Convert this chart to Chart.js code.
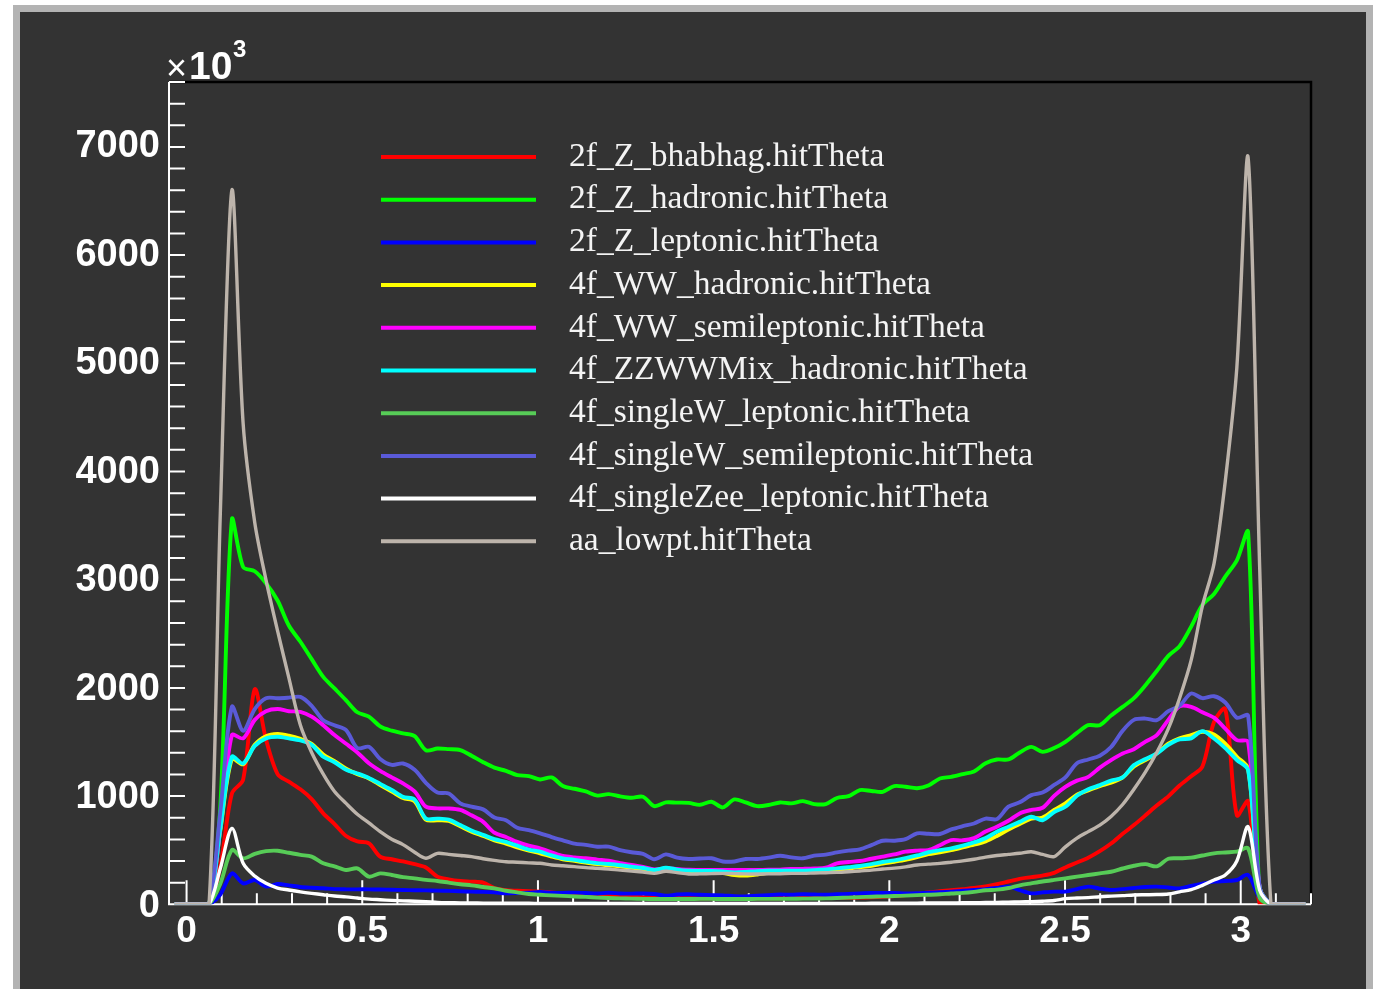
<!DOCTYPE html>
<html>
<head>
<meta charset="utf-8">
<script src="https://cdn.jsdelivr.net/npm/chart.js@4.4.1/dist/chart.umd.min.js"></script>
<style>
    html, body { margin: 0; padding: 0; background: #ffffff; overflow: hidden; }
    #frame {
        position: absolute; left: 13px; top: 5px;
        width: 1346px; height: 1000px;
        border: 7px solid #b3b3b3; border-bottom: none;
        background: #333333;
    }
    #thetaChart { display: block; background: #333333; }
</style>
</head>
<body>
<div id="frame"><canvas id="thetaChart" width="1346" height="977"></canvas></div>
<script>
// === DATA ===
// bin centres of the hitTheta histograms (rad)
const thetaCenters = [
    -0.034, -0.001, 0.031, 0.064, 0.096, 0.129, 0.161, 0.194, 0.226, 0.259,
    0.291, 0.324, 0.356, 0.389, 0.421, 0.454, 0.486, 0.519, 0.551, 0.584,
    0.616, 0.649, 0.681, 0.714, 0.746, 0.779, 0.811, 0.844, 0.876, 0.909,
    0.941, 0.974, 1.006, 1.039, 1.071, 1.104, 1.136, 1.169, 1.201, 1.234,
    1.266, 1.299, 1.331, 1.364, 1.396, 1.429, 1.461, 1.494, 1.526, 1.559,
    1.591, 1.624, 1.656, 1.689, 1.721, 1.754, 1.786, 1.819, 1.851, 1.884,
    1.916, 1.949, 1.981, 2.014, 2.046, 2.079, 2.111, 2.144, 2.176, 2.209,
    2.241, 2.274, 2.306, 2.339, 2.371, 2.404, 2.436, 2.469, 2.501, 2.534,
    2.566, 2.599, 2.631, 2.664, 2.696, 2.729, 2.761, 2.794, 2.826, 2.859,
    2.891, 2.924, 2.956, 2.989, 3.021, 3.054, 3.086, 3.119, 3.151, 3.184,
];

// y axis labels (units of 10^3)
const yLabels = [0, 1000, 2000, 3000, 4000, 5000, 6000, 7000];

// entries, in units of 10^3
const bhabhag = [
    0, 0, 0, 0, 350, 1022, 1150, 1982, 1520, 1200,
    1130, 1060, 970, 838, 740, 630, 580, 562, 439, 415,
    395, 370, 340, 255, 230, 215, 209, 200, 150, 130,
    125, 120, 117, 110, 100, 95, 90, 85, 80, 75,
    70, 66, 62, 60, 58, 56, 55, 55, 55, 55,
    55, 55, 55, 56, 57, 58, 58, 59, 60, 60,
    62, 65, 70, 75, 85, 95, 110, 120, 130, 140,
    150, 165, 185, 210, 235, 250, 265, 290, 340, 385,
    430, 490, 560, 650, 730, 820, 910, 995, 1095, 1180,
    1270, 1680, 1800, 820, 950, 0, 0, 0, 0, 0,
];
const zHadronic = [
    0, 0, 0, 0, 900, 3545, 3110, 3070, 2960, 2800,
    2570, 2420, 2260, 2096, 1990, 1880, 1770, 1730, 1640, 1600,
    1575, 1550, 1420, 1436, 1430, 1421, 1370, 1310, 1260, 1230,
    1191, 1182, 1151, 1169, 1090, 1065, 1040, 1002, 1016, 995,
    982, 991, 905, 939, 937, 935, 917, 945, 893, 967,
    939, 905, 915, 939, 930, 951, 924, 924, 980, 997,
    1053, 1045, 1037, 1090, 1083, 1070, 1095, 1160, 1175, 1200,
    1225, 1300, 1335, 1335, 1400, 1451, 1405, 1440, 1497, 1580,
    1651, 1651, 1740, 1820, 1900, 2020, 2150, 2290, 2380, 2560,
    2760, 2860, 3020, 3170, 3431, 60, 0, 0, 0, 0,
];
const zLeptonic = [
    0, 0, 0, 0, 90, 285, 193, 224, 163, 187,
    175, 160, 153, 148, 140, 138, 138, 138, 136, 134,
    132, 130, 128, 126, 124, 120, 117, 115, 110, 101,
    104, 106, 114, 107, 105, 108, 104, 100, 106, 100,
    98, 100, 95, 79, 90, 92, 88, 85, 82, 75,
    73, 80, 85, 90, 88, 92, 90, 88, 92, 96,
    100, 104, 104, 104, 100, 102, 108, 112, 117, 125,
    132, 140, 150, 163, 130, 101, 110, 117, 117, 140,
    163, 145, 132, 140, 150, 160, 163, 155, 147, 170,
    190, 209, 215, 224, 270, 60, 0, 0, 0, 0,
];
const wwHadronic = [
    0, 0, 0, 0, 680, 1340, 1290, 1470, 1550, 1570,
    1555, 1525, 1480, 1380, 1320, 1250, 1200, 1160, 1100, 1040,
    980, 950, 780, 775, 770, 720, 670, 630, 590, 560,
    525, 495, 470, 440, 415, 400, 385, 370, 360, 350,
    338, 325, 305, 325, 310, 300, 296, 292, 288, 270,
    265, 275, 290, 300, 300, 302, 306, 312, 320, 330,
    342, 355, 375, 392, 410, 435, 462, 480, 500, 525,
    550, 580, 630, 690, 740, 790, 800, 870, 930, 1010,
    1050, 1090, 1120, 1170, 1270, 1330, 1390, 1480, 1530, 1560,
    1590, 1565, 1480, 1360, 1250, 150, 0, 0, 0, 0,
];
const wwSemileptonic = [
    0, 0, 0, 0, 700, 1560, 1530, 1700, 1780, 1800,
    1780, 1774, 1730, 1651, 1560, 1480, 1400, 1300, 1230, 1170,
    1114, 1040, 900, 884, 884, 870, 820, 760, 660, 620,
    575, 540, 516, 480, 445, 432, 424, 412, 402, 380,
    362, 345, 322, 331, 325, 318, 316, 316, 316, 316,
    316, 316, 318, 320, 325, 327, 330, 337, 377, 390,
    399, 420, 439, 460, 485, 495, 500, 545, 592, 590,
    610, 670, 715, 770, 838, 870, 890, 1000, 1083, 1140,
    1175, 1260, 1329, 1390, 1430, 1500, 1559, 1700, 1826, 1820,
    1770, 1720, 1620, 1513, 1498, 150, 0, 0, 0, 0,
];
const zzwwMixHadronic = [
    0, 0, 0, 0, 700, 1360, 1298, 1460, 1530, 1545,
    1530, 1510, 1470, 1360, 1310, 1240, 1206, 1165, 1110, 1053,
    990, 965, 790, 790, 780, 731, 680, 640, 600, 575,
    540, 505, 485, 450, 424, 410, 393, 380, 371, 360,
    347, 335, 316, 337, 320, 310, 308, 307, 302, 294,
    298, 306, 310, 310, 310, 310, 315, 322, 331, 342,
    353, 370, 390, 405, 425, 450, 480, 500, 515, 540,
    570, 610, 669, 715, 760, 807, 775, 850, 899, 1000,
    1060, 1099, 1140, 1170, 1283, 1340, 1390, 1470, 1520, 1530,
    1596, 1528, 1440, 1330, 1237, 150, 0, 0, 0, 0,
];
const singleWLeptonic = [
    0, 0, 0, 0, 190, 500, 424, 465, 490, 494,
    475, 455, 440, 378, 350, 316, 331, 255, 285, 270,
    250, 239, 225, 215, 200, 185, 175, 160, 147, 125,
    110, 95, 88, 82, 78, 72, 68, 62, 58, 55,
    52, 50, 49, 49, 49, 49, 50, 50, 49, 49,
    49, 50, 50, 50, 51, 52, 53, 55, 58, 62,
    66, 70, 73, 76, 80, 85, 88, 92, 100, 105,
    115, 130, 135, 150, 175, 193, 210, 225, 239, 255,
    270, 285, 300, 330, 355, 370, 350, 420, 424, 430,
    450, 470, 478, 485, 516, 60, 0, 0, 0, 0,
];
const singleWSemileptonic = [
    0, 0, 0, 0, 850, 1820, 1600, 1800, 1900, 1900,
    1905, 1912, 1830, 1697, 1650, 1605, 1440, 1452, 1340, 1285,
    1298, 1240, 1120, 1030, 1022, 930, 900, 875, 800, 775,
    705, 684, 654, 620, 590, 560, 548, 531, 531, 500,
    480, 465, 415, 460, 430, 418, 422, 424, 395, 395,
    418, 418, 430, 448, 432, 424, 448, 458, 478, 495,
    507, 545, 586, 586, 600, 654, 650, 648, 690, 720,
    745, 790, 785, 900, 940, 1006, 1030, 1100, 1170, 1300,
    1335, 1370, 1450, 1600, 1700, 1712, 1697, 1780, 1830, 1943,
    1900, 1918, 1860, 1720, 1740, 150, 0, 0, 0, 0,
];
const singleZeeLeptonic = [
    0, 0, 0, 0, 330, 700, 378, 260, 193, 150,
    132, 115, 101, 88, 76, 68, 58, 48, 42, 36,
    32, 28, 24, 18, 15, 13, 12, 11, 10, 10,
    9, 9, 8, 8, 8, 8, 8, 8, 8, 8,
    8, 8, 8, 8, 8, 8, 8, 8, 8, 8,
    8, 8, 8, 8, 8, 8, 8, 8, 8, 8,
    8, 9, 10, 10, 11, 11, 12, 12, 13, 14,
    15, 16, 18, 20, 22, 24, 28, 35, 52, 58,
    62, 70, 75, 80, 86, 88, 90, 95, 115, 135,
    175, 224, 270, 400, 715, 130, 0, 0, 0, 0,
];
const aaLowpt = [
    0, 0, 0, 0, 3600, 6584, 4430, 3520, 2990, 2520,
    2090, 1650, 1400, 1200, 1040, 930, 830, 750, 670, 600,
    550, 480, 424, 470, 460, 450, 440, 420, 405, 392,
    388, 382, 378, 362, 355, 347, 338, 332, 325, 315,
    307, 298, 285, 304, 292, 279, 280, 283, 285, 283,
    280, 279, 280, 282, 285, 285, 288, 291, 294, 300,
    307, 315, 325, 333, 345, 362, 370, 377, 388, 400,
    415, 435, 450, 460, 470, 484, 460, 440, 530, 610,
    670, 730, 810, 920, 1060, 1220, 1400, 1620, 1900, 2250,
    2750, 3140, 3900, 4950, 6884, 3100, 0, 0, 0, 0,
];

const seriesNames = [
    "2f_Z_bhabhag.hitTheta",
    "2f_Z_hadronic.hitTheta",
    "2f_Z_leptonic.hitTheta",
    "4f_WW_hadronic.hitTheta",
    "4f_WW_semileptonic.hitTheta",
    "4f_ZZWWMix_hadronic.hitTheta",
    "4f_singleW_leptonic.hitTheta",
    "4f_singleW_semileptonic.hitTheta",
    "4f_singleZee_leptonic.hitTheta",
    "aa_lowpt.hitTheta",
];
const seriesValues = [
    bhabhag, zHadronic, zLeptonic, wwHadronic, wwSemileptonic,
    zzwwMixHadronic, singleWLeptonic, singleWSemileptonic, singleZeeLeptonic, aaLowpt,
];

// === STYLE ===
const COLORS = ["#ff0000", "#00ff00", "#0000ff", "#ffff00", "#ff00ff", "#00ffff", "#57cc57", "#5a5ad8", "#ffffff", "#bdb4ab"];
const LABEL_FONT = '"Liberation Sans", Arial, sans-serif';
const LEGEND_FONT = '"Liberation Serif", "Times New Roman", serif';

const isMultiple = (v, step) => Math.abs(v / step - Math.round(v / step)) < 1e-6;

// ROOT style axes: white axis lines with inward ticks, black top/right frame
const rootAxes = {
    id: "rootAxes",
    beforeDatasetsDraw(chart) {
        const { ctx, chartArea: a, scales } = chart;
        ctx.save();
        ctx.strokeStyle = "#000000";
        ctx.lineWidth = 2.5;
        ctx.beginPath();
        ctx.moveTo(a.left, a.top);
        ctx.lineTo(a.right, a.top);
        ctx.lineTo(a.right, a.bottom);
        ctx.stroke();

        ctx.strokeStyle = "#ffffff";
        ctx.lineWidth = 2;
        ctx.beginPath();
        ctx.moveTo(a.left, a.top);
        ctx.lineTo(a.left, a.bottom);
        ctx.lineTo(a.right, a.bottom);
        scales.x.ticks.forEach((t) => {
            const px = scales.x.getPixelForValue(t.value);
            ctx.moveTo(px, a.bottom);
            ctx.lineTo(px, a.bottom - (isMultiple(t.value, 0.5) ? 24 : 11));
        });
        scales.y.ticks.forEach((t) => {
            const py = scales.y.getPixelForValue(t.value);
            ctx.moveTo(a.left, py);
            ctx.lineTo(a.left + (isMultiple(t.value, 1000) ? 33 : 16), py);
        });
        ctx.stroke();

        // y labels
        ctx.fillStyle = "#ffffff";
        ctx.font = "bold 38px " + LABEL_FONT;
        ctx.textAlign = "right";
        ctx.textBaseline = "middle";
        yLabels.forEach((v) => {
            ctx.fillText(String(v), a.left - 9, scales.y.getPixelForValue(v) + 2);
        });
        ctx.restore();
    },
    afterDraw(chart) {
        const { ctx, chartArea: a } = chart;
        ctx.save();
        // exponent label
        ctx.fillStyle = "#ffffff";
        ctx.textBaseline = "alphabetic";
        ctx.textAlign = "left";
        ctx.font = "36px " + LABEL_FONT;
        ctx.fillText("\u00d7", a.left - 3, a.top - 2);
        ctx.font = "bold 39px " + LABEL_FONT;
        ctx.fillText("10", a.left + 20, a.top - 3);
        ctx.font = "bold 24px " + LABEL_FONT;
        ctx.fillText("3", a.left + 64, a.top - 25);

        // legend (no box)
        ctx.font = "33.5px " + LEGEND_FONT;
        ctx.textBaseline = "middle";
        chart.data.datasets.forEach((ds, i) => {
            const y = 145 + i * 42.7;
            ctx.strokeStyle = ds.borderColor;
            ctx.lineWidth = 4;
            ctx.beginPath();
            ctx.moveTo(361, y);
            ctx.lineTo(516, y);
            ctx.stroke();
            ctx.fillStyle = "#f4f4f4";
            ctx.fillText(ds.label, 549, y);
        });
        ctx.restore();
    },
};

// === CHART ===
const datasets = seriesValues.map((vals, i) => ({
    label: seriesNames[i],
    data: vals.map((v, k) => ({ x: thetaCenters[k], y: v })),
    borderColor: COLORS[i],
    backgroundColor: COLORS[i],
    borderWidth: i === 9 || i === 8 ? 3.4 : 3.9,
    pointRadius: 0,
    tension: 0.3,
    fill: false,
    order: seriesValues.length - i,
}));

new Chart(document.getElementById("thetaChart").getContext("2d"), {
    type: "line",
    data: { datasets },
    plugins: [rootAxes],
    options: {
        responsive: false,
        animation: false,
        layout: { padding: { left: 0, right: 55, top: 70, bottom: 0 } },
        plugins: {
            legend: { display: false },
            tooltip: { enabled: false },
        },
        scales: {
            x: {
                type: "linear",
                min: -0.05,
                max: 3.2,
                grid: { display: false, drawTicks: false },
                border: { display: false },
                ticks: {
                    stepSize: 0.1,
                    includeBounds: false,
                    autoSkip: false,
                    maxRotation: 0,
                    padding: 5,
                    color: "#ffffff",
                    font: { family: LABEL_FONT, size: 37, weight: "bold" },
                    callback: (v) => (isMultiple(v, 0.5) ? String(Math.round(v * 10) / 10) : ""),
                },
                afterFit: (s) => { s.height = 84.7; },
            },
            y: {
                min: 0,
                max: 7580,
                grid: { display: false, drawTicks: false },
                border: { display: false },
                ticks: {
                    stepSize: 200,
                    includeBounds: false,
                    autoSkip: false,
                    color: "rgba(0,0,0,0)",
                    font: { family: LABEL_FONT, size: 10 },
                    callback: () => "",
                },
                afterFit: (s) => { s.width = 149; },
            },
        },
    },
});
</script>
</body>
</html>
